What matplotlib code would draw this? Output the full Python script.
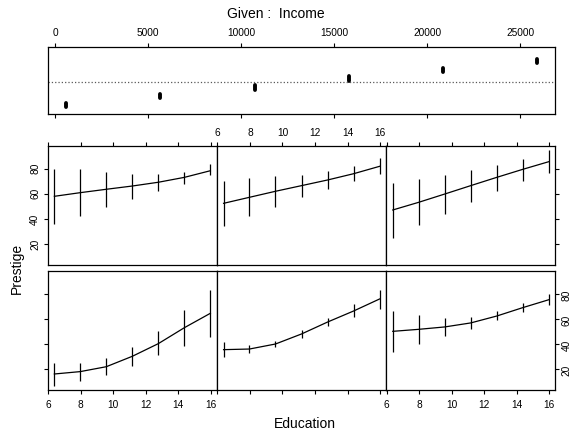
import matplotlib
matplotlib.use("Agg")
import matplotlib.pyplot as plt

plt.rcParams['font.family'] = ['Liberation Sans', 'DejaVu Sans']

# conditioning variable (Income), one small interval per panel
income_mid = [611, 5660, 10720, 15780, 20830, 25880]
income_ticks = [0, 5000, 10000, 15000, 20000, 25000]

# Education values where the fit is shown
edu = [6.38, 7.97, 9.57, 11.17, 12.77, 14.37, 15.97]
edu_ticks = [6, 8, 10, 12, 14, 16]
prestige_ticks = [20, 40, 60, 80]

# panels in coplot order: bottom row left->right, then top row
fit = [
    [16.0, 17.9, 21.8, 30.1, 40.2, 52.9, 64.4],
    [35.4, 35.9, 39.9, 47.9, 57.4, 66.2, 75.8],
    [50.0, 51.6, 53.5, 56.7, 62.2, 68.9, 75.2],
    [58.0, 60.9, 63.6, 66.2, 69.2, 73.1, 78.4],
    [52.4, 57.2, 62.0, 66.5, 71.0, 76.0, 81.9],
    [47.1, 53.2, 59.8, 66.5, 73.1, 79.5, 85.6],
]
lower = [
    [6.7, 10.7, 15.0, 22.6, 30.9, 38.6, 45.5],
    [29.3, 33.0, 37.5, 44.7, 54.3, 61.4, 68.0],
    [33.8, 40.0, 46.5, 51.9, 58.8, 65.4, 70.8],
    [35.7, 42.6, 49.2, 55.9, 62.2, 68.0, 75.0],
    [34.6, 42.6, 49.7, 57.2, 64.0, 70.4, 75.8],
    [25.0, 34.9, 44.1, 53.7, 62.5, 70.4, 76.8],
]
upper = [
    [24.8, 25.0, 28.8, 37.5, 50.3, 67.0, 83.2],
    [41.5, 39.1, 42.0, 51.0, 60.9, 71.6, 83.2],
    [66.2, 63.0, 60.4, 61.2, 66.2, 72.6, 80.0],
    [80.0, 80.0, 77.4, 75.8, 75.8, 77.6, 83.8],
    [70.2, 72.8, 74.2, 75.0, 78.4, 81.9, 88.5],
    [68.6, 72.0, 75.0, 79.0, 83.0, 87.7, 94.9],
]

W, H = 571.0, 433.0
fig = plt.figure(figsize=(W / 100, H / 100), dpi=100, facecolor='w')


def px_axes(left, top, right, bottom):
    return fig.add_axes([left / W, (H - bottom) / H, (right - left) / W, (bottom - top) / H])


def style(ax):
    for s in ax.spines.values():
        s.set_linewidth(0.9)
    ax.tick_params(direction='out', length=3.0, width=0.8, labelsize=7.3, pad=2.5)


# given panel
gax = px_axes(47.7, 47.3, 555.3, 114.3)
style(gax)
levels = list(range(1, len(income_mid) + 1))
gl = gax.vlines(income_mid, [l - 0.25 for l in levels], [l + 0.25 for l in levels],
                color='k', lw=2.8)
gl.set_capstyle('round')
gax.axhline(3.58, color='0.35', ls=':', lw=0.9)
gax.set_xlim(-392, 26880)
gax.set_ylim(-0.06, 7.56)
gax.set_xticks(income_ticks)
gax.tick_params(axis='x', top=True, labeltop=True, bottom=True, labelbottom=False, pad=3.5)
gax.set_yticks([])
fig.text(276 / W, 1 - 14 / H, 'Given :  Income', ha='center', va='center', fontsize=10)

# main panels
left0, right0 = 47.7, 555.3
pw = (right0 - left0) / 3
rows = [(271, 390.3), (146, 265.3)]  # bottom row, top row
for i in range(6):
    r, c = divmod(i, 3)
    top, bottom = rows[r]
    ax = px_axes(left0 + c * pw, top, left0 + (c + 1) * pw, bottom)
    style(ax)
    ax.vlines(edu, lower[i], upper[i], color='k', lw=0.9)
    ax.plot(edu, fit[i], color='k', lw=0.9)
    ax.set_xlim(5.97, 16.37)
    ax.set_ylim(3.0, 98.1)
    ax.set_xticks(edu_ticks)
    ax.set_yticks(prestige_ticks)
    ax.tick_params(axis='y', labelrotation=90)
    for lab in ax.get_yticklabels():
        lab.set_va('center')

    outer_x = (r == 0 and c != 1) or (r == 1 and c == 1)
    if r == 0:
        ax.tick_params(axis='x', bottom=True, labelbottom=outer_x, top=False, labeltop=False,
                       pad=4)
    else:
        ax.tick_params(axis='x', bottom=False, labelbottom=False, top=True, labeltop=outer_x)
    if c == 0:
        ax.tick_params(axis='y', left=True, labelleft=(r == 1), right=False, labelright=False)
    elif c == 2:
        ax.tick_params(axis='y', left=False, labelleft=False, right=True, labelright=(r == 0),
                       pad=1.5)
    else:
        ax.tick_params(axis='y', left=False, labelleft=False, right=False, labelright=False)

fig.text(305 / W, 1 - 424 / H, 'Education', ha='center', va='center', fontsize=10)
fig.text(17 / W, 1 - 268 / H, 'Prestige', ha='center', va='center', fontsize=10, rotation=90)

plt.savefig('out.png', dpi=100)
